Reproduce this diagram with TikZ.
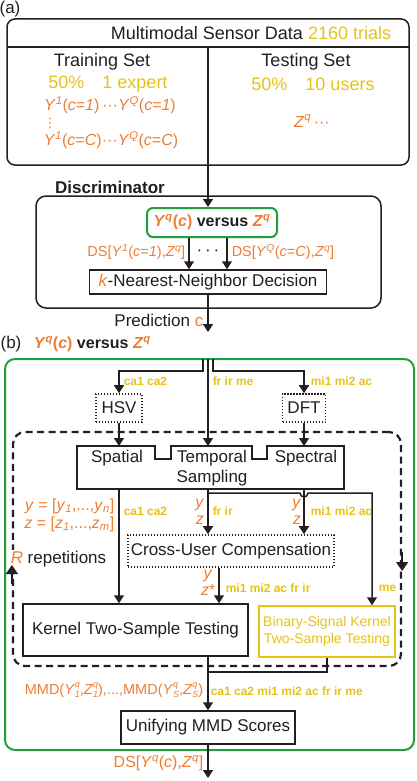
\documentclass[tikz,border=0pt]{standalone}
\usepackage{fontspec}
\setmainfont{Liberation Sans}
\newfontfamily\symfont{DejaVu Sans}
\usetikzlibrary{positioning, arrows.meta}
\definecolor{ink}{RGB}{35,31,32}
\definecolor{yel}{RGB}{230,194,22}
\definecolor{org}{RGB}{237,125,49}
\definecolor{grn}{RGB}{32,160,60}
\newcommand{\fsz}[1]{\fontsize{#1}{17}\selectfont}
\newcommand{\vY}[2]{\textit{Y}\textsuperscript{\textit{#1}}(\textit{c}=\textit{#2})}
\newcommand{\vZ}{\textit{Z}\textsuperscript{\textit{q}}}
\newcommand{\supsb}[2]{{\fontsize{9}{9}\selectfont\rlap{\raisebox{6.5pt}{\textit{#1}}}\raisebox{-3pt}{\textit{#2}}}}

\begin{document}
\begin{tikzpicture}[x=1pt, y=-1pt, >={Triangle[length=8pt,width=10pt]}, line width=1.5pt, color=ink,
  box/.style={draw, rectangle, inner sep=0pt, font=\fsz{17}},
  dotbox/.style={box, dash pattern=on 1.4pt off 1.6pt, line width=1.6pt},
  lab/.style={text=yel, font=\fsz{12}\bfseries, inner sep=0pt},
  var/.style={text=org, font=\fsz{16}, inner sep=0pt},
  txt/.style={font=\fsz{17}, inner sep=0pt}]
  \useasboundingbox (0,0) rectangle (416,781);

  % (a) data sets
  \node [txt] (la) at (10,9) {(a)};
  \node [box, rounded corners=8pt, minimum width=402pt, minimum height=146pt] (data) at (208,92) {};
  \draw (7,47) -- (409,47);
  \draw (208,47) -- (data.south);
  \node [txt, font=\fsz{18}] (head) at (251,33) {Multimodal Sensor Data \textcolor{yel}{2160 trials}};
  \node [txt, font=\fsz{18}] (train) at (102,62) {Training Set};
  \node [txt, font=\fsz{18}] (test) at (306,62) {Testing Set};
  \node [txt, font=\fsz{18}, text=yel] (ntrain) at (108,84) {50\%\quad 1 expert};
  \node [txt, font=\fsz{18}, text=yel] (ntest) at (313,84) {50\%\quad 10 users};
  \node [var] (y1) at (110,105) {\vY{1}{1}\,···\vY{Q}{1}};
  \node [var, font=\symfont\fsz{13}] (vd) at (50,123) {⋮};
  \node [var] (yC) at (111,140) {\vY{1}{C}···\vY{Q}{C}};
  \node [var] (zq) at (312,121) {\vZ\,···};

  % Discriminator
  \node [font=\fsz{17}\bfseries, inner sep=0pt] (dlab) at (110,187) {Discriminator};
  \node [box, rounded corners=10pt, minimum width=345pt, minimum height=112pt] (disc) at (208.5,252) {};
  \node [box, draw=grn, line width=2pt, rounded corners=6pt, minimum width=130pt, minimum height=29pt,
    font=\fsz{16}\bfseries] (vs) at (212,222.5) {\textcolor{org}{\textit{Y}\textsuperscript{\textit{q}}(\textit{c})} versus \textcolor{org}{\vZ}};
  \node [box, minimum width=237pt, minimum height=24pt] (knn) at (208,282) {\textcolor{org}{\textit{k}}-Nearest-Neighbor Decision};
  \node [var, font=\fsz{14.5}, anchor=east] (ds1) at (186,252) {DS[\vY{1}{1},\vZ]};
  \node [var, font=\fsz{14.5}, anchor=west] (dsC) at (231,252) {DS[\vY{Q}{C},\vZ]};
  \node [txt] (dots) at (208,253) {·\,·\,·};
  \coordinate (pred) at (208,332);
  \node [txt, anchor=east] (plab) at (204,320) {Prediction \textcolor{org}{c}};

  % Connect blocks
  \draw [->] (data.south) -- (data.south |- vs.north);
  \draw [->] (vs.south -| 189,0) -- (knn.north -| 189,0);
  \draw [->] (vs.south -| 227,0) -- (knn.north -| 227,0);
  \draw [->] (knn.south) -- (pred);

  % (b) MMD scores
  \node [txt] (lb) at (11,344) {(b)};
  \node [font=\fsz{16}\bfseries, inner sep=0pt, anchor=west] (vsb) at (33,344) {\textcolor{org}{\textit{Y}\textsuperscript{\textit{q}}(\textit{c})} versus \textcolor{org}{\vZ}};
  \node [draw=grn, line width=2pt, rounded corners=10pt, minimum width=409pt, minimum height=391pt, inner sep=0pt] (mmd) at (209.5,554.5) {};
  \node [draw, dash pattern=on 7pt off 4.5pt, line width=2.2pt, rounded corners=12pt, minimum width=388pt, minimum height=234pt, inner sep=0pt] (loop) at (207,549) {};

  \node [dotbox, minimum width=46pt, minimum height=28pt] (hsv) at (119,408) {HSV};
  \node [dotbox, minimum width=43pt, minimum height=28pt] (dft) at (304,408) {DFT};

  % sampling block with two notches
  \draw (77,446) -- (155,446) -- (155,459) -- (171,459) -- (171,446) -- (252,446) -- (252,459) -- (267,459)
    -- (267,446) -- (344,446) -- (344,489) -- (77,489) -- cycle;
  \node [txt] (spat) at (117,458) {Spatial};
  \node [txt] (temp) at (212,458) {Temporal};
  \node [txt] (spec) at (306,458) {Spectral};
  \node [txt] (sampl) at (212,478) {Sampling};
  \coordinate (spat-in) at (119,446);
  \coordinate (temp-in) at (208,446);
  \coordinate (spec-in) at (304,446);
  \coordinate (spat-out) at (119,489);
  \coordinate (temp-out) at (208,489);
  \coordinate (spec-out) at (304,489);

  \node [dotbox, minimum width=206pt, minimum height=32pt] (cross) at (231,551) {Cross-User Compensation};
  \node [box, minimum width=225pt, minimum height=52pt] (kern) at (135.5,630) {Kernel Two-Sample Testing};
  \node [box, draw=yel, text=yel, font=\fsz{14}, align=center, minimum width=136pt, minimum height=51pt] (bin) at (327,631.5)
    {Binary-Signal Kernel\\Two-Sample Testing};
  \node [box, minimum width=174pt, minimum height=33pt] (unify) at (208,727.5) {Unifying MMD Scores};

  \coordinate (in1) at (203,359);
  \coordinate (in2) at (208,359);
  \coordinate (in3) at (213,359);
  \coordinate (join) at (208,672);
  \coordinate (out) at (208,778);

  % labels
  \node [lab, anchor=west] (l-ca) at (123,381) {ca1 ca2};
  \node [lab, anchor=west] (l-tm) at (212,381) {fr ir me};
  \node [lab, anchor=west] (l-mi) at (310,381) {mi1 mi2 ac};
  \node [var, anchor=east] (yvec) at (115,506) {\textit{y} = [\textit{y}\textsubscript{\textit{1}},...,\textit{y}\textsubscript{\textit{n}}]};
  \node [var, anchor=east] (zvec) at (115,524) {\textit{z} = [\textit{z}\textsubscript{\textit{1}},...,\textit{z}\textsubscript{\textit{m}}]};
  \node [lab, anchor=west] (l-ca2) at (123,511) {ca1 ca2};
  \node [var, anchor=east, align=center] (yz1) at (205,512) {\textit{y}\\\textit{z}};
  \node [lab, anchor=west] (l-fr) at (212,511) {fr ir};
  \node [var, anchor=east, align=center] (yz2) at (302,512) {\textit{y}\\\textit{z}};
  \node [lab, anchor=west] (l-mi2) at (310,511) {mi1 mi2 ac};
  \node [var, anchor=east, align=center] (yz3) at (216,583) {\textit{y}\\\textit{z}*};
  \node [lab, anchor=west] (l-cu) at (225,588) {mi1 mi2 ac fr ir};
  \node [lab, anchor=west] (l-me) at (378,588) {me};
  \node [txt, anchor=west, fill=white, inner sep=1pt] (rep) at (9,559) {\textcolor{org}{\textit{R}} repetitions};
  \node [var, font=\fsz{14.5}, anchor=east] (mmds) at (204,690)
    {MMD(\textit{Y}\supsb{q}{1},\textit{Z}\supsb{q}{1}),...,MMD(\textit{Y}\supsb{q}{S},\textit{Z}\supsb{q}{S})};
  \node [lab, anchor=west] (l-all) at (210,691) {ca1 ca2 mi1 mi2 ac fr ir me};
  \node [var, anchor=east] (dsout) at (204,763) {DS[\textit{Y}\textsuperscript{\textit{q}}(\textit{c}),\vZ]};

  % Connect blocks with arrows
  \draw [->] (in1) -- ++(0,12) -| (hsv.north);
  \draw [->] (in2) -- (temp-in);
  \draw [->] (in3) -- ++(0,12) -| (dft.north);
  \draw [->] (hsv.south) -- (spat-in);
  \draw [->] (dft.south) -- (spec-in);
  \draw [->] (spat-out) -- (spat-out |- kern.north);
  \draw [->] (temp-out) -- (temp-out |- cross.north);
  \draw [->] (spec-out) -- (spec-out |- cross.north);
  \draw [->] (208,493) -- (300,493) arc[start angle=180, end angle=360, radius=4pt] -| (bin.north -| 372,0);
  \draw [->] (cross.south -| 219,0) -- (kern.north -| 219,0);
  \draw (bin.south) |- (join);
  \draw [->] (kern.south -| join) -- (unify.north);
  \draw [->] (unify.south) -- (out);
  \draw [-{Triangle[length=9pt,width=12pt]}] (loop.west |- 0,584) -- (loop.west |- 0,565);
  \draw [-{Triangle[length=9pt,width=12pt]}] (loop.east |- 0,552) -- (loop.east |- 0,571);
\end{tikzpicture}
\end{document}
